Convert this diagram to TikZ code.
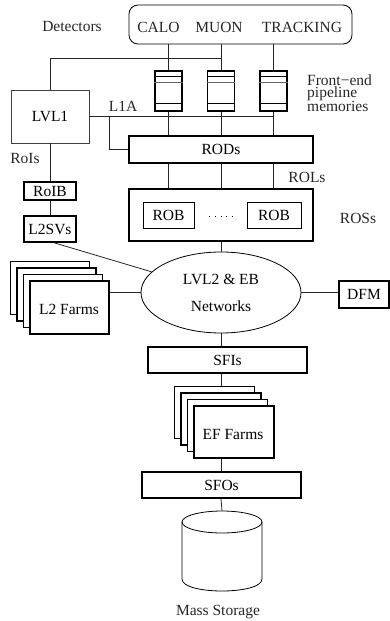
\documentclass[tikz,border=0pt]{standalone}
\usepackage{fontspec}
\setmainfont{Liberation Serif}
\usetikzlibrary{shapes.geometric,calc}
\begin{document}
\begin{tikzpicture}[x=1pt,y=-1pt,
  every node/.style={font=\fontsize{15.5}{15}\selectfont, inner sep=0pt},
  heavybox/.style={draw, line width=1.5pt, fill=white},
  lightbox/.style={draw, line width=0.8pt, fill=white},
  conn/.style={line width=0.8pt, draw=black!85},
  lbl/.style={text=black!85}]
\useasboundingbox (0,0) rectangle (390,621);

% detectors
\node[draw, line width=0.8pt, rounded corners=9pt, minimum width=223pt, minimum height=39pt] (det) at (240.5,24.5) {};
\node[lbl] (detl) at (72,27) {Detectors};
\node[lbl] (calo) at (158.5,27) {CALO};
\node[lbl] (muon) at (219,27) {MUON};
\node[lbl] (trk) at (302,27) {TRACKING};

% front-end pipeline memories
\foreach \n/\x in {mem1/168.5, mem2/221, mem3/273.5}{
  \node[heavybox, minimum width=27pt, minimum height=40pt] (\n) at (\x,91) {};
  \draw[line width=0.8pt] ($(\n.north west)+(0,6)$) -- ($(\n.north east)+(0,6)$);
  \draw[line width=0.8pt, black!60] ($(\n.north west)+(0,12)$) -- ($(\n.north east)+(0,12)$);
  \draw[line width=0.8pt] ($(\n.south west)+(0,-8)$) -- ($(\n.south east)+(0,-8)$);
}
\node[lbl, anchor=west, align=left, font=\fontsize{15.5}{12}\selectfont] (fel) at (307,93) {Front−end\\pipeline\\memories};

% trigger side
\node[lightbox, draw=black!75, minimum width=78pt, minimum height=53pt] (lvl1) at (50,116.5) {LVL1};
\node[lbl] (l1a) at (123,106) {L1A};
\node[lbl] (rois) at (25,158) {RoIs};
\node[heavybox, minimum width=52pt, minimum height=18pt] (roib) at (50,191) {RoIB};
\node[heavybox, minimum width=52pt, minimum height=26pt] (l2sv) at (50,229) {L2SVs};

% readout
\node[heavybox, minimum width=184pt, minimum height=27pt] (rods) at (221,149.5) {RODs};
\node[lbl] (rols) at (307,177) {ROLs};
\node[heavybox, minimum width=184pt, minimum height=52pt] (ros) at (221,215) {};
\node[lightbox, minimum width=51pt, minimum height=26pt] (rob1) at (168.5,215) {ROB};
\node[lightbox, minimum width=54pt, minimum height=26pt] (rob2) at (274,215) {ROB};
\draw[line width=0.8pt, dash pattern=on 1pt off 4.6pt] ($(rob1.east)+(15,1)$) -- ($(rob2.west)+(-13,1)$);
\node[lbl] (ross) at (358,218) {ROSs};

% network
\node[draw, line width=0.8pt, ellipse, minimum width=160pt, minimum height=81pt, align=center,
      font=\fontsize{15.5}{27}\selectfont] (net) at (221,292.5) {LVL2 \& EB\\Networks};

% L2 farms stack
\node[heavybox, minimum width=79pt, minimum height=53pt] (l2a) at (50,288) {};
\node[heavybox, minimum width=79pt, minimum height=53pt] (l2b) at (56.5,294.5) {};
\node[heavybox, minimum width=79pt, minimum height=53pt] (l2c) at (63,301) {};
\node[heavybox, minimum width=79pt, minimum height=53pt] (l2) at (69.5,307.5) {};
\node (l2t) at (69,309) {L2 Farms};

\node[heavybox, minimum width=50pt, minimum height=27pt] (dfm) at (364,294.5) {DFM};

% event filter
\node[heavybox, minimum width=159pt, minimum height=26pt] (sfi) at (227.5,360) {SFIs};
\node[heavybox, minimum width=80pt, minimum height=52pt] (efa) at (214.5,412.5) {};
\node[heavybox, minimum width=80pt, minimum height=52pt] (efb) at (221,419) {};
\node[heavybox, minimum width=80pt, minimum height=52pt] (efc) at (227.5,425.5) {};
\node[heavybox, minimum width=80pt, minimum height=52pt] (ef) at (234,432) {};
\node (eft) at (233,434) {EF Farms};
\node[heavybox, minimum width=159pt, minimum height=26pt] (sfo) at (221.5,485) {SFOs};

% mass storage
\node[minimum width=80pt, minimum height=80pt] (ms) at (222,551) {};
\draw[line width=0.8pt] (222,522) ellipse [x radius=40, y radius=11];
\draw[line width=0.8pt] (182,522) -- (182,579) .. controls (182,595) and (262,595) .. (262,579) -- (262,522);
\node[lbl] (msl) at (218,612) {Mass Storage};

% connectors
\foreach \n in {mem1,mem2,mem3}{
  \draw[conn] (\n.north |- det.south) -- (\n.north);
  \draw[conn] (\n.south) -- (\n.south |- rods.north);
  \draw[conn] (\n.south |- rods.south) -- (\n.south |- ros.north);
}
\coordinate (j1) at (221,58);
\draw[conn] (lvl1.north) |- (j1);
\draw[conn] (lvl1.east) -- (lvl1.east -| mem3.south);
\coordinate (j2) at (109,116.5);
\draw[conn] (j2) |- (rods.west);
\draw[conn] (lvl1.south) -- (roib.north);
\draw[conn] (roib.south) -- (l2sv.north);
\draw[conn] ([xshift=4pt]l2sv.south) -- (net);
\draw[conn] (ros.south) -- (ros.south |- net.north);
\draw[conn] (net.west) -- (net.west -| l2.east);
\draw[conn] (net.east) -- (net.east -| dfm.west);
\draw[conn] (net.south) -- (net.south |- sfi.north);
\draw[conn] (net.south |- sfi.south) -- (net.south |- efa.north);
\draw[conn] (net.south |- ef.south) -- (net.south |- sfo.north);
\draw[conn] (net.south |- sfo.south) -- (ms.north);
\end{tikzpicture}
\end{document}
